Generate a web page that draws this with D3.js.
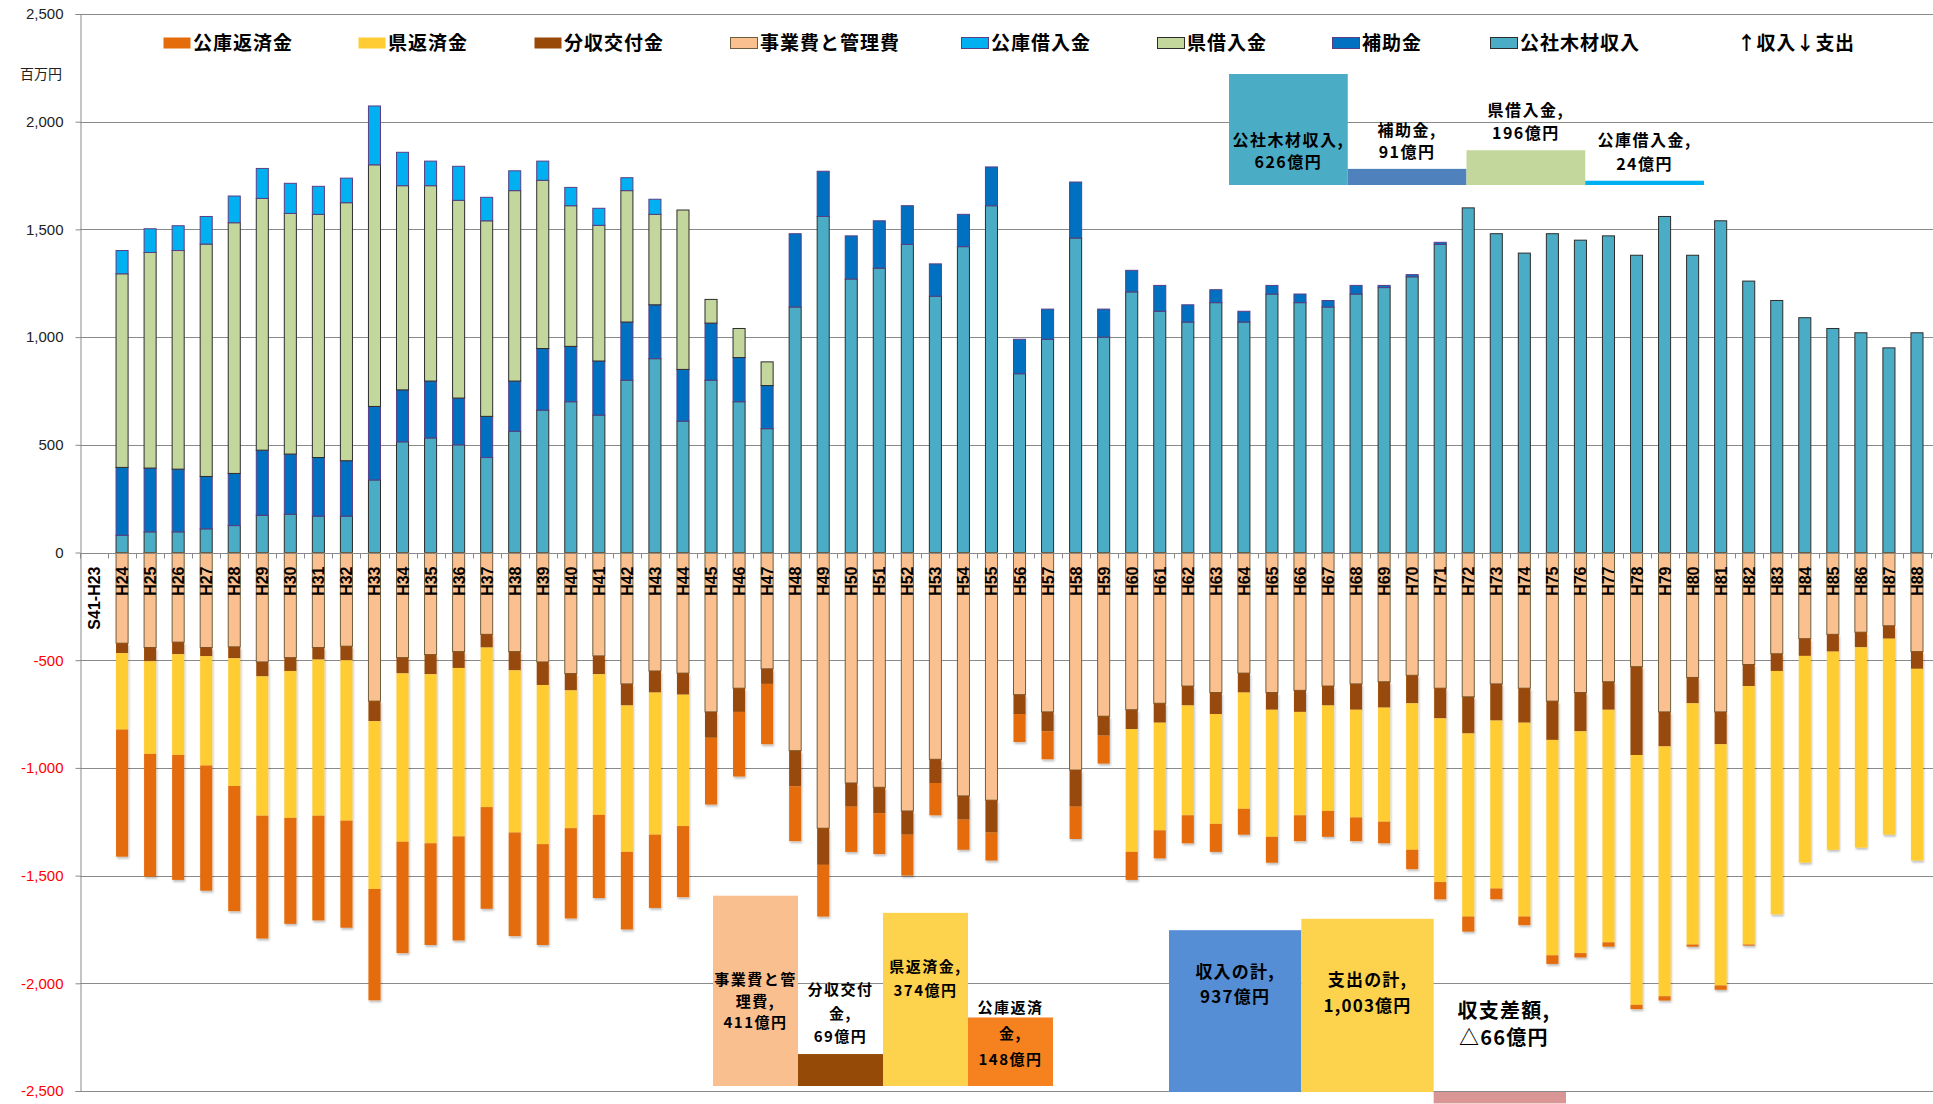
<!DOCTYPE html>
<html>
<head>
<meta charset="utf-8">
<script src="https://cdn.jsdelivr.net/npm/d3@7"></script>
<style>
  body { margin: 0; background: #fff; }
  svg { display: block; }
</style>
</head>
<body>
<svg id="chart" width="1933" height="1104"></svg>
<script>
// ---- Data (百万円) ----
const categories = ["S41-H23",
  "H24","H25","H26","H27","H28","H29","H30","H31","H32","H33","H34","H35","H36","H37","H38","H39","H40","H41",
  "H42","H43","H44","H45","H46","H47","H48","H49","H50","H51","H52","H53","H54","H55","H56","H57","H58","H59",
  "H60","H61","H62","H63","H64","H65","H66","H67","H68","H69","H70","H71",
  "H72","H73","H74","H75","H76","H77","H78","H79","H80","H81","H82","H83","H84","H85","H86","H87","H88"];

// 収入
const revTimber = [0,
  80,96,96,110,125,173,178,169,169,337,514,532,500,441,563,661,700,638,
  800,900,610,800,700,575,1140,1560,1270,1320,1430,1190,1420,1610,830,990,1460,1000,
  1210,1120,1070,1160,1070,1200,1160,1140,1200,1230,1280,1430,
  1600,1480,1390,1480,1450,1470,1380,1560,1380,1540,1260,1170,1090,1040,1020,950,1020];
const revSubsidy = [0,
  315,296,291,243,242,302,279,272,257,341,241,264,217,191,233,286,257,251,
  270,250,240,265,205,200,340,210,200,220,180,150,150,180,160,140,260,130,
  100,120,80,60,50,40,40,30,40,10,10,10,
  0,0,0,0,0,0,0,0,0,0,0,0,0,0,0,0,0];
const revPrefLoan = [0,
  899,1001,1015,1079,1164,1169,1117,1129,1198,1122,948,907,918,908,884,781,653,630,
  610,420,740,110,135,110,0,0,0,0,0,0,0,0,0,0,0,0,
  0,0,0,0,0,0,0,0,0,0,0,0,
  0,0,0,0,0,0,0,0,0,0,0,0,0,0,0,0,0];
const revKokoLoan = [0,
  108,110,115,128,124,139,140,130,114,273,155,114,158,109,92,89,85,79,
  60,70,0,0,0,0,0,0,0,0,0,0,0,0,0,0,0,0,
  0,0,0,0,0,0,0,0,0,0,0,0,
  0,0,0,0,0,0,0,0,0,0,0,0,0,0,0,0,0];

// 支出
const expOps = [0,
  421,441,416,441,438,508,488,441,435,690,488,474,460,380,460,508,562,480,
  610,550,560,740,630,540,920,1280,1070,1090,1200,960,1130,1150,660,740,1010,760,
  730,700,620,650,560,650,640,620,610,600,570,630,
  670,610,630,690,650,600,530,740,580,740,520,470,400,380,370,340,460];
const expShare = [0,
  46,64,56,40,53,67,62,56,65,93,73,91,76,61,87,107,78,85,
  100,100,100,120,110,70,165,170,110,120,110,110,110,150,90,90,170,90,
  90,90,90,100,90,80,100,90,120,120,130,140,
  170,170,160,180,180,130,410,160,120,150,100,80,80,80,70,60,80];
const expPrefRepay = [0,
  355,430,468,508,593,647,682,725,745,779,782,785,782,741,753,739,640,653,
  680,660,610,0,0,0,0,0,0,0,0,0,0,0,0,0,0,0,
  570,500,510,510,540,590,480,490,500,530,680,760,
  850,780,900,1000,1030,1080,1160,1160,1120,1120,1200,1130,960,920,930,910,890];
const expKokoRepay = [0,
  590,570,580,581,581,570,492,486,497,517,517,472,483,472,481,468,419,386,
  360,340,330,310,300,280,255,240,210,190,190,150,140,130,130,130,150,130,
  130,130,130,130,120,120,120,120,110,100,90,80,
  70,50,40,40,20,20,20,20,10,20,5,0,0,0,0,0,0];

const yTicks = [2500,2000,1500,1000,500,0,-500,-1000,-1500,-2000,-2500];

// 累計 (億円)
const incomeItems = ["公社木材収入","補助金","県借入金","公庫借入金"];
const incomeTotals = [626, 91, 196, 24];
const expenseItems = ["事業費と管理費","分収交付金","県返済金","公庫返済金"];
const expenseTotals = [411, 69, 374, 148];
const balanceItems = ["収入の計","支出の計","収支差額"];
const balanceValues = [937, 1003, -66];

// ---- Series styling ----
const incomeSeries = [
  { key: "公社木材収入", values: revTimber,   fill: "#4bacc6", stroke: "#2d2d2d" },
  { key: "補助金",       values: revSubsidy,  fill: "#0070c0", stroke: "#5a3f85" },
  { key: "県借入金",     values: revPrefLoan, fill: "#c3d69b", stroke: "#2d2d2d" },
  { key: "公庫借入金",   values: revKokoLoan, fill: "#00b0f0", stroke: "#5a3f85" }
];
const expenseSeries = [
  { key: "事業費と管理費", values: expOps,       fill: "#fac090", stroke: "#6f5e3e" },
  { key: "分収交付金",     values: expShare,     fill: "#984807", stroke: "none" },
  { key: "県返済金",       values: expPrefRepay, fill: "#ffcc33", stroke: "none" },
  { key: "公庫返済金",     values: expKokoRepay, fill: "#e46c0a", stroke: "none" }
];
const allSeries = incomeSeries.concat(expenseSeries);

const JP = "'Noto Sans CJK JP', 'Noto Sans', sans-serif";
const W = 1933, H = 1104;
const plot = { left: 80, right: 1931, top: 14, bottom: 1091 };

const svg = d3.select("#chart");
const defs = svg.append("defs");
const shadow = defs.append("filter").attr("id", "shadow")
  .attr("x", "-50%").attr("y", "-5%").attr("width", "200%").attr("height", "110%");
shadow.append("feDropShadow").attr("dx", 1).attr("dy", 2).attr("stdDeviation", 1)
  .attr("flood-color", "#000").attr("flood-opacity", 0.25);

// ---- Scales ----
const x = d3.scaleBand().domain(categories)
  .range([plot.left, plot.right]).paddingInner(0.57).paddingOuter(0.285);
const y = d3.scaleLinear().domain([-2500, 2500]).range([plot.bottom, plot.top]);

// ---- Grid ----
svg.append("g").selectAll("line").data(yTicks).join("line")
  .attr("x1", plot.left).attr("x2", W)
  .attr("y1", d => Math.round(y(d)) + 0.5).attr("y2", d => Math.round(y(d)) + 0.5)
  .attr("stroke", "#8a8a8a").attr("stroke-width", 1);

// ---- Y axis ----
const fmt = d3.format(",");
const yAxis = svg.append("g").attr("transform", `translate(${plot.left + 0.5},0)`)
  .call(d3.axisLeft(y).tickValues(yTicks).tickSize(5).tickPadding(12)
    .tickFormat(d => (d < 0 ? "-" : "") + fmt(Math.abs(d))));
yAxis.select(".domain").attr("stroke", "#8a8a8a");
yAxis.selectAll(".tick line").attr("stroke", "#8a8a8a");
yAxis.selectAll(".tick text")
  .attr("font-family", "'Liberation Sans', Arial, sans-serif").attr("font-size", 15)
  .attr("fill", d => d < 0 ? "#ff0000" : "#222");

svg.append("text").attr("x", 20).attr("y", 79)
  .attr("font-family", JP).attr("font-size", 14).attr("fill", "#222").text("百万円");

// ---- Stacked bars ----
const rows = categories.map((c, i) => {
  const r = { cat: c };
  incomeSeries.forEach(s => r[s.key] = s.values[i]);
  expenseSeries.forEach(s => r[s.key] = -s.values[i]);
  return r;
});
const stack = d3.stack().keys(allSeries.map(s => s.key)).offset(d3.stackOffsetDiverging);
const layers = stack(rows);

const barG = svg.append("g");
layers.forEach((layer, li) => {
  const s = allSeries[li];
  barG.append("g").attr("filter", s.stroke === "none" ? "url(#shadow)" : null)
    .selectAll("rect").data(layer.filter(d => d[1] !== d[0])).join("rect")
    .attr("x", d => x(d.data.cat))
    .attr("width", x.bandwidth())
    .attr("y", d => y(Math.max(d[0], d[1])))
    .attr("height", d => Math.abs(y(d[0]) - y(d[1])))
    .attr("fill", s.fill)
    .attr("stroke", s.stroke)
    .attr("stroke-width", s.stroke === "none" ? 0 : 1);
});

// ---- Category axis at zero ----
const y0 = Math.round(y(0)) + 0.5;
svg.append("line").attr("x1", plot.left).attr("x2", W).attr("y1", y0).attr("y2", y0)
  .attr("stroke", "#8a8a8a");
const step = x.step();
svg.append("g").selectAll("line").data(d3.range(categories.length + 1)).join("line")
  .attr("x1", i => Math.round(plot.left + i * step) + 0.5)
  .attr("x2", i => Math.round(plot.left + i * step) + 0.5)
  .attr("y1", y0).attr("y2", y0 + 5).attr("stroke", "#8a8a8a");
svg.append("g").selectAll("text").data(categories).join("text")
  .attr("transform", d => `translate(${x(d) + x.bandwidth() / 2 + 6},${y0 + 13}) rotate(-90)`)
  .attr("text-anchor", "end")
  .attr("font-family", "'Liberation Sans', Arial, sans-serif")
  .attr("font-weight", "bold").attr("font-size", 16).attr("fill", "#000")
  .text(d => d);

// ---- Legend ----
const legendSeries = expenseSeries.slice().reverse().concat(incomeSeries.slice().reverse());
const legendX = [163, 358, 534, 730, 961, 1157, 1332, 1490];
const legendY = 43;
const lg = svg.append("g").selectAll("g").data(legendSeries).join("g")
  .attr("transform", (d, i) => `translate(${legendX[i]},${legendY})`);
lg.append("rect").attr("x", 0.5).attr("y", -5.5).attr("width", 27).attr("height", 11)
  .attr("fill", d => d.fill)
  .attr("stroke", d => d.stroke === "none" ? "none" : d.stroke);
lg.append("text").attr("x", 30).attr("y", 0).attr("dy", "0.36em")
  .attr("font-family", JP).attr("font-weight", "bold").attr("font-size", 19)
  .attr("letter-spacing", 1).attr("fill", "#000").text(d => d.key);
svg.append("text").attr("x", 1737).attr("y", legendY).attr("dy", "0.36em")
  .attr("font-family", JP).attr("font-weight", "bold").attr("font-size", 19)
  .attr("letter-spacing", 0.6).attr("fill", "#000").text("↑収入↓支出");

// ---- Cumulative summary boxes ----
const measure = svg.append("text").attr("visibility", "hidden");
function wrapLabel(str, font, maxW) {
  measure.attr("font-family", font.family).attr("font-size", font.size)
    .attr("font-weight", "bold").attr("letter-spacing", font.spacing);
  const lines = [];
  let cur = "";
  for (const ch of str) {
    const test = cur + ch;
    measure.text(test);
    if (cur && measure.node().getComputedTextLength() > maxW) {
      if (ch === ",") { lines.push(cur.slice(0, -1)); cur = cur.slice(-1) + ch; }
      else { lines.push(cur); cur = ch; }
    } else cur = test;
  }
  lines.push(cur);
  return lines;
}
const fmtOku = v => (v < 0 ? "△" + fmt(-v) : fmt(v)) + "億円";

function drawSummary(opt) {
  const g = svg.append("g");
  const bx = d3.scaleBand().domain(opt.items).range([opt.x0, opt.x1]);
  const by = d3.scaleLinear().domain([0, 1]).range([opt.baseline, opt.baseline - opt.pxPerUnit]);
  opt.items.forEach((name, i) => {
    const v = opt.values[i];
    const top = by(Math.max(0, v)), bot = by(Math.min(0, v));
    g.append("rect").attr("x", bx(name)).attr("y", top)
      .attr("width", bx.bandwidth()).attr("height", bot - top)
      .attr("fill", opt.colors[i]);
    const font = { family: JP, size: opt.fontSize[i], spacing: opt.spacing };
    const lines = wrapLabel(name + ",", font, opt.maxW).concat([fmtOku(v)]);
    const lh = opt.lineH[i];
    const pos = opt.labelPos[i];
    let lastY;
    if (pos.out) lastY = top - 17;
    else lastY = (top + bot) / 2 + pos.dy + (lines.length - 1) * lh / 2;
    const cx = bx(name) + bx.bandwidth() / 2 + (pos.dx || 0);
    g.append("text")
      .attr("font-family", JP).attr("font-weight", "bold")
      .attr("font-size", font.size).attr("letter-spacing", opt.spacing)
      .attr("text-anchor", "middle").attr("fill", "#000")
      .selectAll("tspan").data(lines).join("tspan")
      .attr("x", cx).attr("y", (d, k) => lastY - (lines.length - 1 - k) * lh)
      .attr("dy", "0.36em").text(d => d);
  });
}

drawSummary({
  items: incomeItems, values: incomeTotals,
  colors: ["#4bacc6", "#4f81bd", "#c3d69b", "#00b0f0"],
  x0: 1229, x1: 1704, baseline: 185, pxPerUnit: 0.1773,
  fontSize: [16, 16, 16, 16], lineH: [22, 22, 23, 24], spacing: 1.5, maxW: 112,
  labelPos: [{ dy: 21.5 }, { out: true }, { out: true }, { out: true }]
});
drawSummary({
  items: expenseItems, values: expenseTotals,
  colors: ["#f9bf8f", "#964a08", "#fdd24c", "#f5821f"],
  x0: 713, x1: 1053, baseline: 1086, pxPerUnit: 0.463,
  fontSize: [15, 15, 15, 15], lineH: [21.5, 23.5, 24, 26], spacing: 1.5, maxW: 84,
  labelPos: [{ dy: 10.5 }, { out: true }, { dy: -20.5 }, { dy: -18 }]
});
drawSummary({
  items: balanceItems, values: balanceValues,
  colors: ["#558ed5", "#fdd24c", "#d99694"],
  x0: 1169, x1: 1566, baseline: 1092, pxPerUnit: 0.1727,
  fontSize: [17, 17, 20], lineH: [25, 26, 27], spacing: 1.2, maxW: 125,
  labelPos: [{ dy: -26.5 }, { dy: -12.5 }, { dy: -73, dx: 4 }]
});
measure.remove();
</script>
</body>
</html>
